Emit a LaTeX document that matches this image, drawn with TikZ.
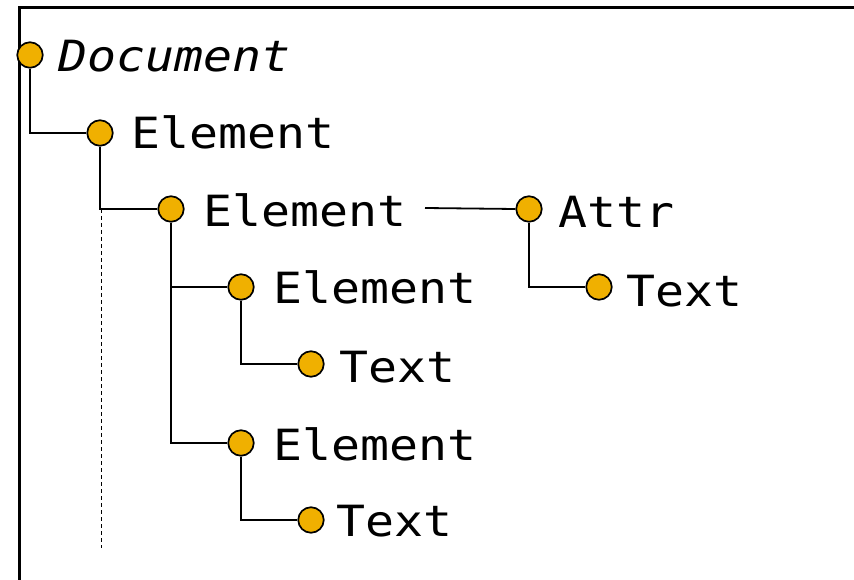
\documentclass[tikz,border=0pt]{standalone}
\usepackage{fontspec}
\newfontfamily\treefont[FakeStretch=1.12]{DejaVu Sans Mono}
\definecolor{dotfill}{RGB}{240,176,0}
\begin{document}
\begin{tikzpicture}[x=1pt,y=-1pt,
  dot/.style={circle,draw=black,line width=1.7pt,fill=dotfill,minimum size=25.5pt,inner sep=0pt},
  lbl/.style={anchor=base west,inner sep=0pt,font=\treefont\fontsize{43}{43}\selectfont},
  link/.style={line width=1.8pt},
  frame/.style={line width=3pt}]
\useasboundingbox (0,0) rectangle (854,580);
\draw[frame] (19,580) -- (19,8) -- (854,8);
% dots
\node[dot] (d0) at (30,55) {};
\node[dot] (e1) at (100,133) {};
\node[dot] (e2) at (171,209) {};
\node[dot] (e3) at (241,287) {};
\node[dot] (t3) at (311,364) {};
\node[dot] (e4) at (241,443) {};
\node[dot] (t4) at (311,520) {};
\node[dot] (a1) at (529,209) {};
\node[dot] (ta) at (599,287) {};
% labels
\node[lbl,font=\treefont\itshape\fontsize{43}{43}\selectfont] (ld0) at (58,72) {Document};
\node[lbl] (le1) at (131,149) {Element};
\node[lbl] (le2) at (203,226) {Element};
\node[lbl] (le3) at (273,303) {Element};
\node[lbl] (lt3) at (339,382) {Text};
\node[lbl] (le4) at (273,460) {Element};
\node[lbl] (lt4) at (336,536) {Text};
\node[lbl] (la1) at (558,228) {Attr};
\node[lbl] (lta) at (626,306) {Text};
% connectors
\draw[link] (d0.south) |- (e1.west);
\draw[link] (e1.south) |- (e2.west);
\draw[link] (e2.south) |- (e3.west);
\draw[link] (e2.south) |- (e4.west);
\draw[link] (e3.south) |- (t3.west);
\draw[link] (e4.south) |- (t4.west);
\draw[link] (a1.south) |- (ta.west);
\coordinate (ae) at (425,208);
\draw[link] (ae) -- (a1.west);
\coordinate (dtop) at (101,209);
\coordinate (dbot) at (101,548);
\draw[dashed,line width=0.8pt,dash pattern=on 4pt off 3pt] (dtop) -- (dbot);
\end{tikzpicture}
\end{document}
